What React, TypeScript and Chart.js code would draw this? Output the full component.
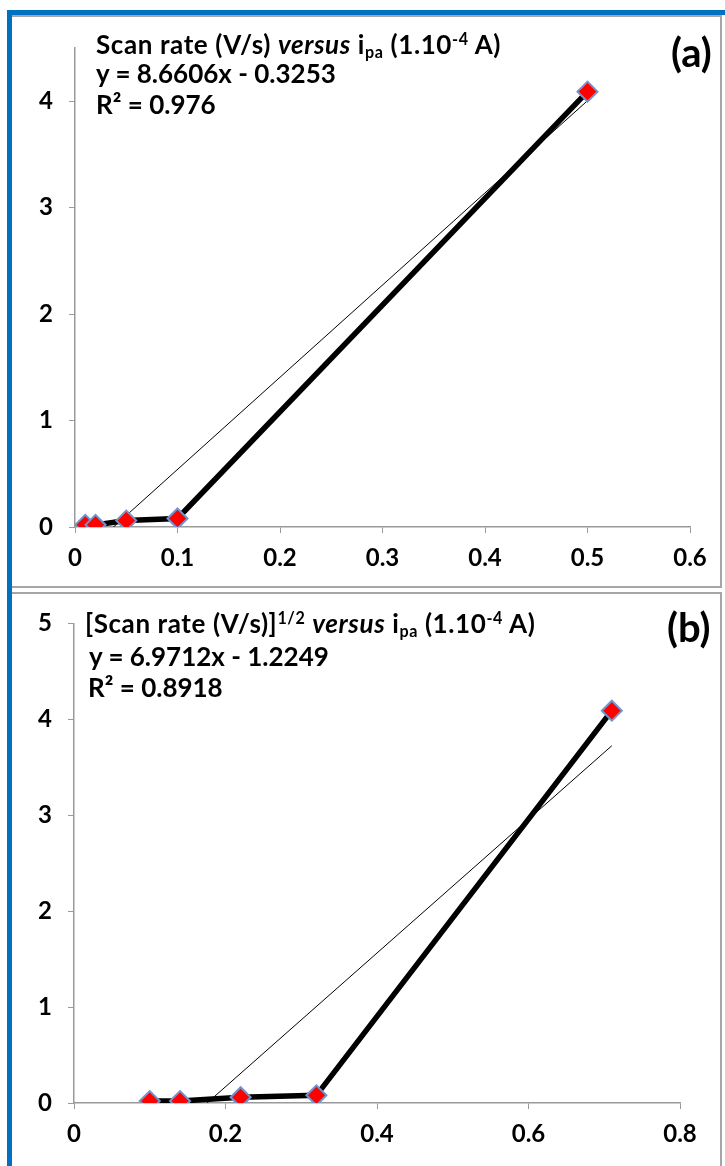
import React, { useEffect, useRef } from "react";
import { Chart, registerables } from "chart.js";
Chart.register(...registerables);

// Panel (a): scan rate vs ipa
const scanRateA = [0.01, 0.02, 0.05, 0.1, 0.5];
const ipaA = [0.02, 0.02, 0.06, 0.08, 4.09];
const slopeA = 8.6606;
const interceptA = -0.3253;
const r2A = "0.976";

// Panel (b): sqrt(scan rate) vs ipa
const sqrtScanRateB = [0.1, 0.14, 0.22, 0.32, 0.71];
const ipaB = [0.02, 0.02, 0.06, 0.08, 4.09];
const slopeB = 6.9712;
const interceptB = -1.2249;
const r2B = "0.8918";

const FONT = "Lato, 'Open Sans', sans-serif";
const AXIS_GRAY = "#9a9a9a";

type PanelOpts = {
  xs: number[];
  ys: number[];
  slope: number;
  intercept: number;
  xMax: number;
  xStep: number;
  yMax: number;
  yAxisWidth: number;
  xAxisHeight: number;
  padTop: number;
  padRight: number;
  width: number;
  height: number;
};

function PanelChart(p: PanelOpts) {
  const ref = useRef<HTMLCanvasElement>(null);
  useEffect(() => {
    if (!ref.current) return;
    const xmin = Math.min(...p.xs);
    const xmax = Math.max(...p.xs);
    const trend = [
      { x: xmin, y: p.slope * xmin + p.intercept },
      { x: xmax, y: p.slope * xmax + p.intercept },
    ];
    const pts = p.xs.map((x, i) => ({ x, y: p.ys[i] }));
    const chart = new Chart(ref.current, {
      type: "scatter",
      data: {
        datasets: [
          {
            data: pts,
            showLine: true,
            borderColor: "#000",
            borderWidth: 5.5,
            pointStyle: "rectRot",
            pointRadius: 10,
            pointBackgroundColor: "#ff0000",
            pointBorderColor: "#7393c9",
            pointBorderWidth: 2,
            order: 1,
          },
          {
            data: trend,
            showLine: true,
            borderColor: "#000",
            borderWidth: 1,
            pointRadius: 0,
            order: 2,
          },
        ],
      },
      options: {
        responsive: false,
        maintainAspectRatio: false,
        animation: false,
        events: [],
        layout: { padding: { top: p.padTop, right: p.padRight, left: 0, bottom: 0 } },
        plugins: { legend: { display: false }, tooltip: { enabled: false } },
        scales: {
          x: {
            type: "linear",
            min: 0,
            max: p.xMax,
            ticks: {
              stepSize: p.xStep,
              color: "#000",
              padding: 11,
              font: { family: FONT, size: 24, weight: "bold" },
              callback: (v: any) => String(Number(Number(v).toFixed(2))),
            },
            grid: { drawOnChartArea: false, drawTicks: true, tickLength: 6, color: AXIS_GRAY },
            border: { color: AXIS_GRAY, width: 1.5 },
            afterFit: (s: any) => {
              s.height = p.xAxisHeight;
            },
          },
          y: {
            type: "linear",
            min: 0,
            max: p.yMax,
            ticks: {
              stepSize: 1,
              color: "#000",
              padding: 16,
              font: { family: FONT, size: 24, weight: "bold" },
            },
            afterBuildTicks: (s: any) => {
              s.ticks = s.ticks.filter((t: any) => Math.abs(t.value - Math.round(t.value)) < 1e-9);
            },
            grid: { drawOnChartArea: false, drawTicks: true, tickLength: 6, color: AXIS_GRAY },
            border: { color: AXIS_GRAY, width: 1.5 },
            afterFit: (s: any) => {
              s.width = p.yAxisWidth;
            },
          },
        },
      },
    });
    return () => chart.destroy();
  }, []);
  return (
    <canvas
      ref={ref}
      width={p.width}
      height={p.height}
      style={{ position: "absolute", left: 0, top: 0, width: p.width, height: p.height }}
    />
  );
}

const textBase: React.CSSProperties = {
  position: "absolute",
  fontFamily: FONT,
  fontWeight: "bold",
  color: "#000",
  whiteSpace: "nowrap",
  lineHeight: "30px",
  height: 30,
  fontSize: 26,
};
const titleText: React.CSSProperties = { ...textBase, letterSpacing: "0.6px" };
const sup: React.CSSProperties = { fontSize: "0.62em", verticalAlign: "0.55em", lineHeight: 0 };
const sub: React.CSSProperties = { fontSize: "0.62em", verticalAlign: "-0.25em", lineHeight: 0 };
const panelLabel: React.CSSProperties = { ...textBase, fontSize: 40, lineHeight: "44px", height: 44 };

export default function App() {
  return (
    <div
      style={{
        position: "absolute",
        left: 0,
        top: 0,
        width: 725,
        height: 1166,
        background: "#fff",
        overflow: "hidden",
      }}
    >
      {/* blue frame */}
      <div style={{ position: "absolute", left: 7, top: 10, width: 5, height: 1156, background: "#0070c0" }} />
      <div style={{ position: "absolute", left: 7, top: 10, width: 718, height: 5, background: "#0070c0" }} />

      {/* panel (a) */}
      <div
        style={{
          position: "absolute",
          left: 12,
          top: 15,
          width: 708,
          height: 569,
          borderTop: "2px solid #a6a6a6",
          borderRight: "2px solid #a6a6a6",
          borderBottom: "2px solid #a6a6a6",
        }}
      />
      <div style={{ position: "absolute", left: 12, top: 15, width: 710, height: 571 }}>
        <PanelChart
          xs={scanRateA}
          ys={ipaA}
          slope={slopeA}
          intercept={interceptA}
          xMax={0.6}
          xStep={0.1}
          yMax={4.5}
          yAxisWidth={63}
          xAxisHeight={59}
          padTop={33}
          padRight={32}
          width={710}
          height={571}
        />
      </div>
      <div style={{ ...titleText, left: 96, top: 29 }}>
        Scan rate (V/s) <i>versus</i> i<span style={sub}>pa</span> (1.10<span style={sup}>-4</span> A)
      </div>
      <div style={{ ...textBase, left: 96, top: 58 }}>y = 8.6606x - 0.3253</div>
      <div style={{ ...textBase, left: 96, top: 89 }}>R² = {r2A}</div>
      <div style={{ ...panelLabel, left: 671, top: 30 }}>(a)</div>

      {/* panel (b) */}
      <div
        style={{
          position: "absolute",
          left: 12,
          top: 592,
          width: 708,
          height: 580,
          borderTop: "2px solid #a6a6a6",
          borderRight: "2px solid #a6a6a6",
        }}
      />
      <div style={{ position: "absolute", left: 12, top: 593, width: 710, height: 573 }}>
        <PanelChart
          xs={sqrtScanRateB}
          ys={ipaB}
          slope={slopeB}
          intercept={interceptB}
          xMax={0.8}
          xStep={0.2}
          yMax={5}
          yAxisWidth={62}
          xAxisHeight={63}
          padTop={30}
          padRight={42}
          width={710}
          height={573}
        />
      </div>
      <div style={{ ...titleText, left: 85, top: 608 }}>
        [Scan rate (V/s)]<span style={sup}>1/2</span> <i>versus</i> i<span style={sub}>pa</span> (1.10<span style={sup}>-4</span> A)
      </div>
      <div style={{ ...textBase, left: 89, top: 641 }}>y = 6.9712x - 1.2249</div>
      <div style={{ ...textBase, left: 88, top: 672 }}>R² = {r2B}</div>
      <div style={{ ...panelLabel, left: 667, top: 605 }}>(b)</div>
    </div>
  );
}
